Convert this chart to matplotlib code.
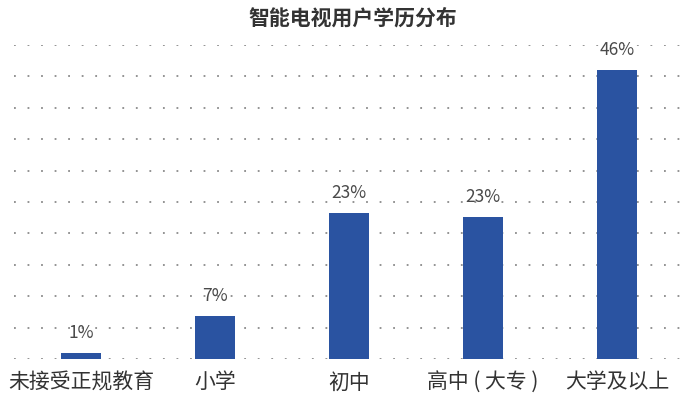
import matplotlib
matplotlib.use("Agg")
import matplotlib.pyplot as plt

plt.rcParams['font.family'] = ['Noto Sans CJK SC', 'DejaVu Sans']

categories = ['未接受正规教育', '小学', '初中', '高中 ( 大专 )', '大学及以上']
values = [1.0, 6.8, 23.2, 22.6, 46.0]
value_labels = ['1%', '7%', '23%', '23%', '46%']
title = '智能电视用户学历分布'

fig = plt.figure(figsize=(6.91, 3.99), dpi=100)
ax = fig.add_axes([0.0203, 0.1003, 0.9696, 0.7867])

x = list(range(len(categories)))
bars = ax.bar(x, values, width=0.3, color='#2A53A1', zorder=3)

ax.set_xlim(-0.5, 4.5)
ax.set_ylim(0, 50)
for yv in range(0, 51, 5):
    ax.axhline(yv, color='#8a8a8a', lw=1.3, linestyle=(0, (1, 6.5)), zorder=1)

for b, lab in zip(bars, value_labels):
    ax.annotate(lab, (b.get_x() + b.get_width() / 2, b.get_height()),
                xytext=(0, 8), textcoords='offset points', ha='center', va='bottom',
                fontsize=12.5, color='#4a4a4a')

ax.set_xticks(x)
ax.set_xticklabels(categories, fontsize=15, color='#333333')
ax.tick_params(axis='x', length=0, pad=9)
ax.set_yticks([])
for s in ax.spines.values():
    s.set_visible(False)

fig.text(0.51, 0.955, title, ha='center', va='center', fontsize=15, color='#333333', fontweight='bold')

fig.savefig('out.png', dpi=100)
